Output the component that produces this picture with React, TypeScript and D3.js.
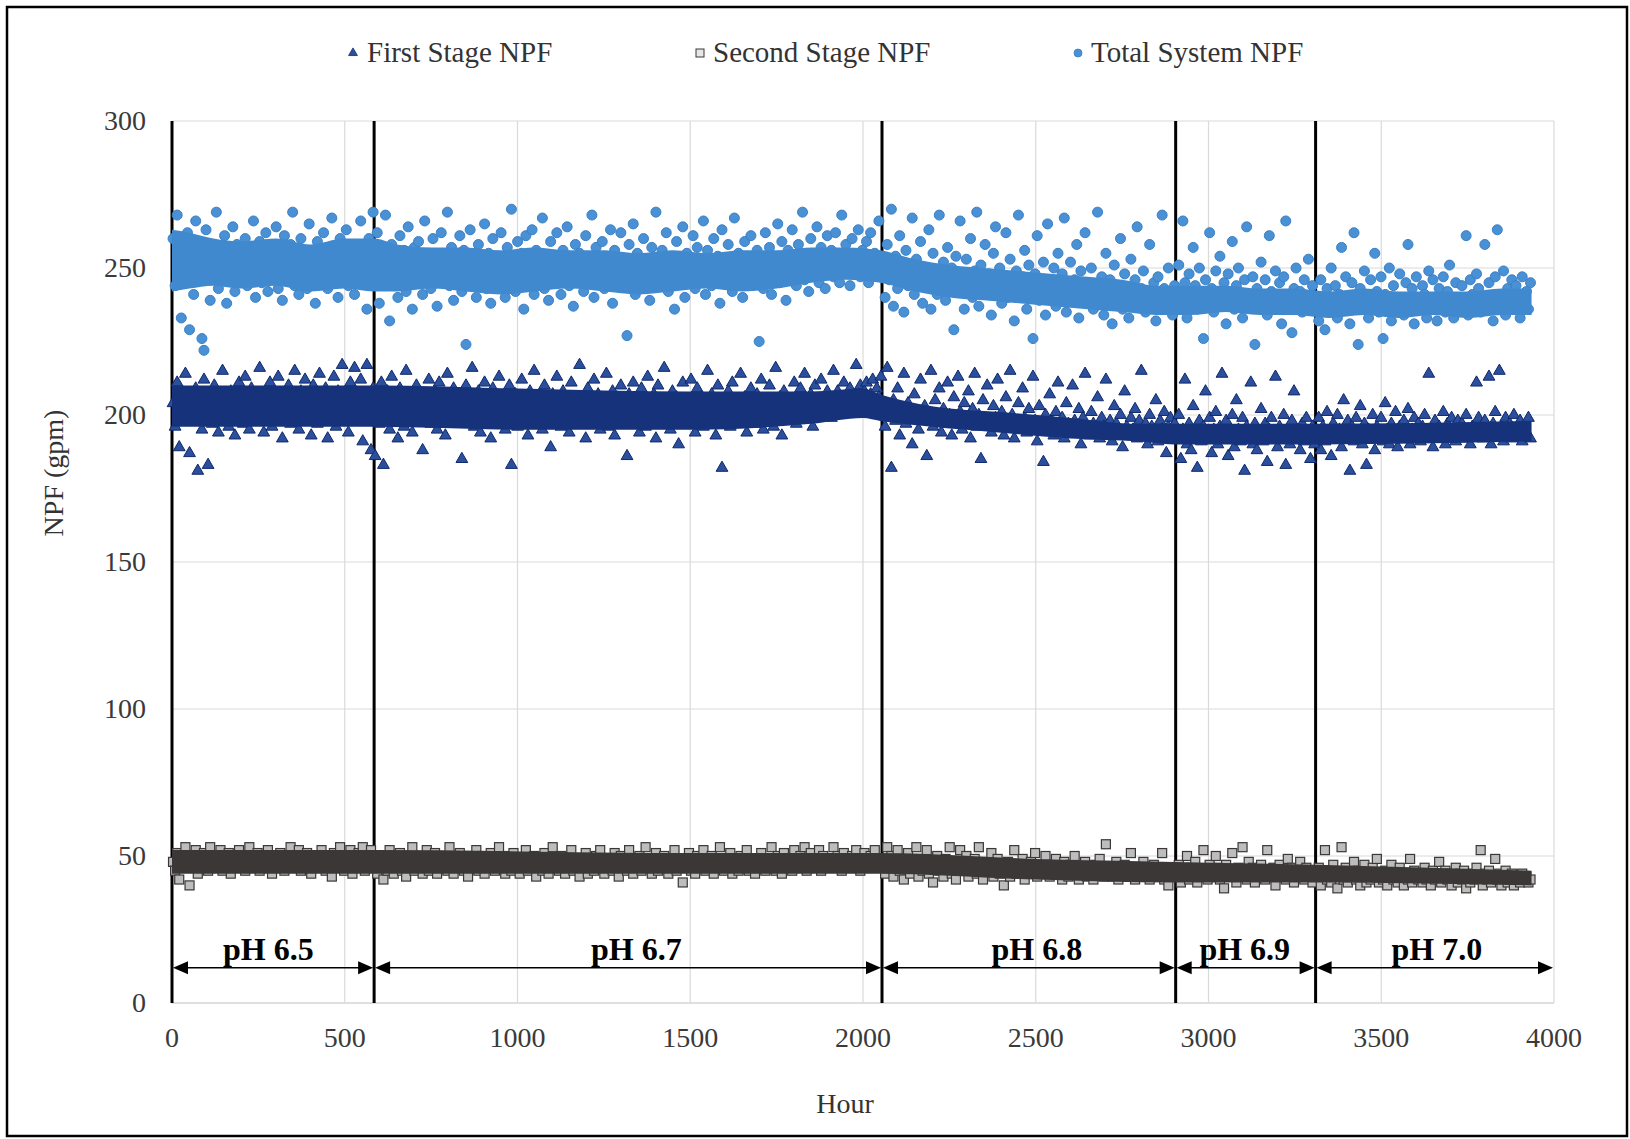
import * as d3 from "d3";

const W = 1630;
const H = 1139;

// pH phases (hours) and labels
const phaseLabels = ["pH 6.5", "pH 6.7", "pH 6.8", "pH 6.9", "pH 7.0"];
const phaseLabelHours = [279, 1344, 2503, 3105, 3661];
const phaseBreaks = [0, 585, 2055, 2905, 3310];
const arrowEnd = 4000;
const dataEnd = 3935;

const xTicks = [0, 500, 1000, 1500, 2000, 2500, 3000, 3500, 4000];
const yTicks = [0, 50, 100, 150, 200, 250, 300];

// dense core of each cloud: [hour, low, high]
const totalCore = [
  [0, 242, 263], [50, 243, 262], [120, 244, 260], [200, 243, 259], [300, 244, 260],
  [400, 242, 258], [500, 243, 260], [585, 242, 260], [650, 242, 258], [750, 243, 257],
  [850, 242, 257], [950, 241, 256], [1050, 242, 257], [1150, 243, 256], [1250, 242, 256],
  [1350, 241, 255], [1450, 242, 256], [1550, 243, 255], [1650, 242, 256], [1750, 243, 256],
  [1850, 245, 257], [1950, 246, 257], [2050, 245, 256], [2150, 242, 253], [2250, 240, 251],
  [2350, 239, 250], [2450, 238, 249], [2550, 237, 248], [2650, 236, 247], [2750, 235, 246],
  [2850, 234, 244], [2950, 234, 244], [3050, 235, 244], [3150, 234, 243], [3250, 234, 243],
  [3350, 233, 242], [3450, 234, 243], [3550, 233, 242], [3650, 234, 242], [3750, 233, 242],
  [3850, 234, 243], [3935, 234, 243],
];
const firstCore = [
  [0, 196, 210], [585, 196, 210], [1000, 195, 209], [1500, 195, 208], [1850, 197, 208],
  [2000, 199, 209], [2050, 198, 207], [2200, 196, 203], [2400, 194, 201], [2600, 192, 199],
  [2800, 191, 197], [2900, 190, 197], [3310, 190, 197], [3935, 191, 198],
];
const secondCore = [
  [0, 44, 52], [585, 44, 52], [1500, 44, 51], [2050, 44, 51], [2500, 42, 49],
  [2900, 41, 48], [3310, 41, 47], [3935, 40, 45],
];

// Total System NPF (gpm), readings per pH phase
const totalPh65 = [
  260, 244, 268, 251, 233, 256, 247, 262, 229, 253,
  241, 266, 249, 258, 226, 222, 263, 252, 239, 257,
  248, 269, 243, 255, 250, 261, 238, 254, 246, 264,
  242, 258, 251, 247, 247, 260, 244, 256, 252, 266,
  240, 249, 259, 245, 254, 262, 242, 257, 250, 247,
  264, 243, 255, 239, 261, 251, 246, 258, 269, 244,
  253, 241, 260, 249, 256, 243, 265, 252, 247, 238,
  259, 254, 245, 262, 250, 243, 257, 267, 248, 254,
  240, 260, 246, 252, 263, 244, 256, 249, 241, 258,
  251, 266, 245, 254, 236, 260, 248, 269,
];
const totalPh67 = [
  247, 262, 238, 255, 244, 268, 251, 232, 258, 246,
  253, 240, 261, 249, 256, 242, 264, 250, 236, 257,
  245, 259, 252, 241, 266, 248, 255, 243, 260, 250,
  237, 254, 262, 246, 251, 269, 244, 257, 239, 253,
  248, 261, 242, 256, 224, 250, 263, 245, 254, 240,
  258, 247, 252, 265, 243, 255, 238, 260, 249, 253,
  244, 262, 251, 240, 257, 246, 270, 253, 242, 259,
  248, 255, 236, 261, 250, 245, 263, 241, 256, 252,
  247, 267, 243, 254, 239, 259, 250, 245, 262, 253,
  241, 256, 248, 264, 244, 251, 237, 258, 246, 255,
  250, 242, 261, 253, 247, 268, 240, 257, 252, 245,
  259, 243, 254, 249, 263, 238, 256, 251, 246, 262,
  244, 253, 227, 258, 248, 265, 241, 255, 250, 243,
  260, 247, 252, 239, 257, 246, 269, 251, 244, 256,
  249, 262, 242, 254, 248, 236, 259, 252, 245, 264,
  240, 255, 250, 246, 261, 243, 257, 253, 247, 266,
  241, 256, 251, 244, 260, 248, 254, 238, 263, 250,
  245, 258, 252, 242, 267, 247, 255, 249, 240, 259,
  253, 244, 261, 250, 246, 256, 225, 252, 243, 262,
  248, 257, 241, 254, 250, 265, 245, 259, 251, 239,
  256, 247, 263, 252, 244, 258, 249, 269, 246, 255,
  242, 260, 253, 248, 264, 245, 257, 251, 243, 261,
  250, 256, 247, 262, 253, 245, 268, 252, 258, 249,
  244, 260, 254, 250, 263, 247, 256, 252, 259, 245,
  262, 251, 255, 248, 266, 253,
];
const totalPh68 = [
  252, 240, 258, 246, 270, 237, 254, 243, 261, 249,
  235, 256, 244, 251, 267, 241, 253, 247, 259, 238,
  250, 244, 263, 236, 255, 248, 241, 268, 246, 252,
  239, 257, 245, 250, 229, 254, 242, 266, 247, 236,
  253, 244, 260, 240, 249, 269, 237, 251, 245, 258,
  242, 248, 234, 255, 264, 243, 250, 238, 246, 262,
  240, 253, 245, 232, 249, 268, 241, 247, 256, 236,
  251, 243, 226, 248, 261, 239, 245, 252, 234, 265,
  246, 241, 250, 237, 255, 243, 248, 267, 235, 244,
  252, 239, 246, 258, 233, 249, 242, 262, 238, 245,
  250, 236, 243, 269, 240, 247, 234, 255, 241, 246,
  231, 251, 238, 244, 260, 236, 248, 242, 233, 253,
  240, 246, 264, 237, 243, 249, 235, 241, 258, 239,
  245, 232, 247, 238, 268, 243, 236, 250, 240, 234,
  244,
];
const totalPh69 = [
  242, 251, 236, 266, 245, 233, 248, 239, 257, 244,
  236, 250, 241, 226, 246, 238, 262, 243, 235, 249,
  240, 254, 237, 245, 231, 248, 242, 259, 236, 244,
  250, 239, 233, 246, 264, 241, 237, 247, 224, 243,
  238, 252, 240, 246, 234, 261, 242, 236, 249, 239,
  245, 231, 247, 266, 240, 237, 228, 243, 250, 238,
  242, 235, 246, 240, 253, 236, 244, 239,
];
const totalPh70 = [
  240, 232, 246, 237, 229, 243, 235, 250, 238, 244,
  233, 241, 257, 236, 247, 239, 231, 245, 262, 238,
  224, 243, 236, 249, 240, 233, 246, 238, 255, 242,
  235, 247, 226, 241, 237, 250, 232, 244, 239, 236,
  248, 240, 234, 245, 258, 238, 243, 231, 247, 239,
  236, 244, 241, 233, 249, 237, 246, 240, 232, 243,
  238, 247, 235, 242, 251, 239, 233, 245, 240, 236,
  244, 238, 261, 234, 246, 241, 237, 248, 243, 235,
  240, 258, 236, 245, 239, 232, 247, 263, 241, 237,
  249, 234, 243, 239, 246, 236, 244, 240, 233, 247,
  238, 242, 236, 245,
];

// First Stage NPF (gpm)
const firstPh65 = [
  204, 196, 211, 189, 207, 199, 214, 202, 187, 206,
  198, 209, 181, 203, 195, 212, 200, 183, 205, 197,
  210, 201, 194, 207, 215, 199, 204, 196, 208, 202,
  193, 206, 211, 200, 197, 213, 203, 195, 209, 201,
  205, 198, 216, 202, 194, 208, 200, 211, 196, 204,
  199, 213, 203, 192, 207, 201, 210, 197, 205, 215,
  200, 195, 208, 203, 212, 198, 206, 193, 210, 202,
  197, 214, 204, 199, 209, 192, 206, 201, 213, 196,
  208, 203, 217, 198, 205, 194, 211, 200, 216, 207,
  199, 212, 191, 205, 217, 201, 188, 209,
];
const firstPh67 = [
  186, 204, 197, 211, 183, 201, 208, 195, 213, 199,
  205, 192, 209, 202, 196, 215, 200, 207, 194, 203,
  210, 198, 204, 188, 206, 201, 212, 197, 203, 208,
  195, 211, 200, 206, 193, 214, 202, 198, 209, 204,
  197, 207, 185, 203, 210, 199, 205, 216, 196, 201,
  208, 194, 204, 211, 199, 202, 192, 209, 205, 198,
  213, 200, 206, 195, 203, 210, 183, 201, 207, 196,
  204, 212, 198, 205, 193, 208, 201, 215, 199, 206,
  202, 195, 210, 204, 197, 189, 207, 200, 213, 203,
  196, 208, 201, 205, 194, 211, 199, 206, 202, 217,
  198, 204, 192, 209, 203, 197, 212, 200, 207, 195,
  205, 201, 214, 196, 203, 208, 193, 206, 200, 210,
  197, 204, 186, 207, 201, 211, 198, 205, 194, 209,
  202, 196, 213, 203, 199, 207, 192, 210, 200, 205,
  216, 198, 204, 195, 208, 201, 206, 190, 203, 211,
  199, 205, 197, 212, 202, 194, 209, 200, 206, 196,
  204, 215, 198, 207, 201, 193, 210, 203, 182, 205,
  200, 208, 196, 211, 202, 198, 205, 214, 199, 206,
  194, 203, 209, 200, 197, 207, 201, 212, 195, 204,
  199, 210, 203, 196, 216, 201, 206, 193, 208, 202,
  198, 205, 200, 211, 197, 204, 209, 199, 214, 203,
  201, 207, 196, 210, 203, 199, 212, 205, 200, 208,
  204, 199, 215, 203, 208, 201, 206, 211, 202, 207,
  209, 203, 205, 217, 206, 210, 204, 208, 211, 205,
  207, 212, 203, 209, 206, 213,
];
const firstPh68 = [
  203, 196, 216, 200, 182, 205, 198, 209, 193, 201,
  214, 197, 204, 199, 190, 207, 201, 195, 212, 198,
  203, 186, 200, 215, 196, 205, 199, 209, 194, 202,
  197, 211, 200, 193, 206, 198, 213, 201, 195, 204,
  199, 208, 192, 202, 214, 196, 200, 185, 205, 197,
  210, 198, 194, 203, 199, 212, 196, 201, 193, 206,
  197, 215, 200, 192, 198, 204, 195, 209, 199, 194,
  202, 196, 213, 198, 191, 203, 197, 184, 200, 195,
  207, 198, 193, 201, 211, 196, 199, 192, 204, 197,
  194, 210, 198, 195, 202, 190, 199, 214, 196, 193,
  201, 197, 194, 206, 192, 199, 196, 212, 195, 198,
  191, 203, 197, 194, 200, 189, 208, 196, 193, 199,
  195, 202, 192, 198, 215, 194, 197, 190, 200, 196,
  193, 205, 191, 198, 195, 201, 187, 196, 199, 193,
  197,
];
const firstPh69 = [
  192, 200, 185, 195, 212, 190, 197, 188, 203, 194,
  182, 198, 191, 196, 208, 193, 199, 187, 195, 201,
  190, 196, 214, 192, 198, 186, 194, 200, 189, 205,
  195, 191, 199, 181, 196, 193, 211, 190, 197, 188,
  194, 202, 191, 197, 184, 195, 199, 192, 213, 189,
  196, 193, 200, 183, 195, 190, 198, 208, 192, 194,
  188, 197, 191, 199, 193, 185, 196, 190,
];
const firstPh70 = [
  193, 199, 188, 196, 191, 201, 194, 186, 197, 192,
  200, 195, 189, 205, 193, 198, 181, 196, 191, 199,
  194, 203, 190, 197, 183, 195, 192, 200, 188, 196,
  193, 199, 191, 204, 195, 190, 197, 193, 201, 189,
  196, 192, 198, 194, 202, 190, 195, 199, 193, 197,
  191, 196, 200, 193, 214, 195, 189, 198, 192, 196,
  194, 201, 190, 197, 193, 199, 195, 191, 198, 194,
  197, 192, 200, 195, 190, 196, 193, 211, 199, 194,
  192, 198, 195, 213, 190, 197, 201, 193, 215, 196,
  191, 199, 194, 197, 192, 200, 195, 193, 198, 191,
  196, 194, 199, 192,
];

// Second Stage NPF (gpm)
const secondPh65 = [
  48, 45, 51, 42, 49, 46, 53, 47, 40, 50,
  47, 52, 44, 49, 46, 51, 48, 45, 53, 47,
  50, 46, 48, 52, 45, 49, 47, 51, 44, 48,
  49, 46, 52, 47, 50, 45, 48, 53, 46, 49,
  47, 51, 45, 48, 50, 46, 52, 47, 44, 49,
  48, 46, 51, 47, 45, 50, 48, 53, 46, 49,
  47, 52, 45, 49, 46, 51, 48, 44, 50, 47,
  49, 46, 52, 48, 45, 50, 47, 43, 51, 48,
  46, 53, 48, 45, 50, 47, 52, 44, 49, 46,
  51, 48, 53, 45, 50, 47, 52, 49,
];
const secondPh67 = [
  47, 44, 50, 46, 42, 49, 45, 52, 47, 44,
  49, 46, 51, 45, 48, 43, 50, 47, 53, 45,
  48, 46, 50, 44, 47, 52, 45, 49, 46, 51,
  44, 48, 46, 50, 47, 45, 53, 48, 44, 49,
  46, 51, 47, 45, 49, 43, 50, 46, 48, 52,
  45, 47, 50, 44, 48, 46, 51, 47, 45, 49,
  53, 46, 48, 44, 50, 47, 45, 51, 46, 48,
  44, 49, 47, 52, 45, 48, 46, 50, 43, 47,
  49, 45, 51, 47, 44, 48, 53, 46, 49, 45,
  50, 47, 44, 48, 46, 52, 45, 49, 47, 43,
  48, 46, 51, 44, 49, 47, 45, 50, 46, 52,
  47, 44, 49, 46, 48, 45, 51, 47, 43, 50,
  46, 48, 45, 52, 47, 44, 49, 46, 50, 45,
  48, 53, 46, 49, 44, 47, 51, 45, 48, 46,
  50, 47, 44, 49, 46, 52, 45, 48, 47, 41,
  49, 46, 51, 45, 48, 44, 50, 47, 46, 52,
  45, 48, 47, 50, 44, 49, 46, 53, 47, 45,
  48, 46, 51, 44, 49, 47, 45, 50, 46, 48,
  52, 45, 47, 49, 44, 48, 46, 51, 47, 45,
  49, 46, 53, 47, 45, 50, 48, 44, 51, 47,
  46, 49, 45, 52, 48, 46, 50, 47, 53, 45,
  48, 51, 46, 49, 47, 52, 45, 50, 48, 46,
  49, 47, 53, 46, 50, 48, 45, 51, 47, 49,
  46, 50, 48, 52, 47, 45, 49, 51, 46, 48,
  50, 47, 52, 46, 49, 48,
];
const secondPh68 = [
  48, 44, 53, 46, 50, 43, 47, 52, 45, 49,
  42, 47, 51, 44, 48, 46, 53, 43, 49, 45,
  47, 52, 44, 48, 41, 46, 50, 45, 47, 43,
  49, 46, 53, 44, 48, 42, 47, 52, 45, 46,
  50, 43, 47, 45, 49, 44, 53, 46, 42, 48,
  45, 47, 51, 43, 46, 49, 44, 47, 40, 45,
  48, 43, 46, 52, 44, 47, 45, 49, 42, 46,
  44, 48, 45, 51, 43, 46, 47, 44, 50, 45,
  43, 47, 45, 49, 44, 46, 42, 48, 45, 43,
  47, 44, 50, 45, 42, 46, 44, 48, 43, 45,
  46, 42, 47, 44, 49, 45, 43, 54, 44, 46,
  43, 45, 48, 42, 46, 44, 47, 43, 45, 51,
  44, 42, 46, 45, 43, 48, 44, 46, 42, 45,
  47, 43, 45, 44, 51, 42, 46, 40, 44, 45,
  43,
];
const secondPh69 = [
  44, 47, 41, 45, 43, 50, 42, 46, 44, 48,
  41, 45, 43, 52, 44, 42, 47, 45, 43, 50,
  46, 42, 44, 39, 47, 45, 43, 51, 44, 41,
  46, 43, 53, 45, 42, 48, 44, 46, 41, 45,
  43, 47, 44, 42, 52, 45, 43, 46, 40, 44,
  47, 43, 45, 42, 49, 44, 46, 41, 45, 43,
  48, 44, 42, 46, 43, 45, 41, 44,
];
const secondPh70 = [
  43, 46, 40, 44, 52, 42, 45, 41, 47, 43,
  39, 44, 53, 42, 46, 41, 44, 43, 48, 42,
  45, 40, 43, 47, 41, 44, 42, 46, 43, 49,
  41, 44, 42, 45, 40, 43, 47, 42, 44, 41,
  46, 43, 40, 44, 42, 49, 41, 45, 43, 42,
  44, 41, 46, 42, 43, 40, 45, 42, 44, 48,
  41, 43, 45, 42, 44, 40, 43, 46, 41, 44,
  42, 45, 39, 43, 41, 44, 42, 46, 43, 52,
  40, 44, 42, 45, 41, 43, 49, 42, 44, 40,
  43, 45, 41, 42, 44, 40, 43, 42, 41, 44,
  42, 43, 41, 42,
];

const FONT = "'Liberation Serif', 'Times New Roman', serif";

const x = d3.scaleLinear().domain([0, 4000]).range([172, 1554]);
const y = d3.scaleLinear().domain([0, 300]).range([1003, 121]);

// place each phase's readings across that phase's hours
function toPoints(phases: number[][]) {
  return phases.flatMap((vals, i) => {
    const h0 = phaseBreaks[i];
    const h1 = i < phaseBreaks.length - 1 ? phaseBreaks[i + 1] : dataEnd;
    const hr = d3.scaleLinear().domain([0, vals.length - 1]).range([h0 + 3, h1 - 3]);
    return vals.map((v, j) => ({ h: hr(j), v }));
  });
}

const firstPts = toPoints([firstPh65, firstPh67, firstPh68, firstPh69, firstPh70]);
const secondPts = toPoints([secondPh65, secondPh67, secondPh68, secondPh69, secondPh70]);
const totalPts = toPoints([totalPh65, totalPh67, totalPh68, totalPh69, totalPh70]);

const core = d3
  .area<number[]>()
  .x((d) => x(d[0]))
  .y0((d) => y(d[1]))
  .y1((d) => y(d[2]))
  .curve(d3.curveMonotoneX);

const triPath = d3.symbol().type(d3.symbolTriangle).size(60)() as string;
const triLegend = d3.symbol().type(d3.symbolTriangle).size(34)() as string;

const colors = {
  firstFill: "#2b4f9c",
  firstStroke: "#10296b",
  firstCore: "#15327b",
  secondFill: "#bdbdbd",
  secondStroke: "#3b3737",
  secondCore: "#3b3737",
  totalFill: "#4a90d4",
  totalStroke: "#3a80c6",
  totalCore: "#4089cf",
};

function Arrow({ h0, h1, hl, label }: { h0: number; h1: number; hl: number; label: string }) {
  const x0 = x(h0);
  const x1 = x(h1);
  const yy = y(12);
  const L = 15;
  const hw = 6.5;
  return (
    <g>
      <line x1={x0 + 4} x2={x1 - 4} y1={yy} y2={yy} stroke="#000" strokeWidth={1.5} />
      <path d={`M${x0 + 1},${yy}L${x0 + 1 + L},${yy - hw}L${x0 + 1 + L},${yy + hw}Z`} fill="#000" />
      <path d={`M${x1 - 1},${yy}L${x1 - 1 - L},${yy - hw}L${x1 - 1 - L},${yy + hw}Z`} fill="#000" />
      <text x={x(hl)} y={960} textAnchor="middle" fontFamily={FONT} fontWeight="bold" fontSize={32} fill="#000">
        {label}
      </text>
    </g>
  );
}

export default function App() {
  const segEnds = [...phaseBreaks.slice(1), arrowEnd];
  return (
    <svg
      width={W}
      height={H}
      style={{ position: "absolute", left: 0, top: 0, display: "block", background: "#fff" }}
    >
      <rect x={7} y={7} width={1620} height={1129} fill="#fff" stroke="#000" strokeWidth={2.5} />

      {/* legend */}
      <g fontFamily={FONT} fontSize={29} fill="#333">
        <path d={triLegend} transform="translate(353,53)" fill={colors.firstFill} stroke={colors.firstStroke} strokeWidth={0.8} />
        <text x={367} y={62}>First Stage NPF</text>
        <rect x={696} y={49} width={8} height={8} fill="#e6e6e6" stroke={colors.secondStroke} strokeWidth={1} />
        <text x={713} y={62}>Second Stage NPF</text>
        <circle cx={1078} cy={53} r={4} fill={colors.totalFill} stroke={colors.totalStroke} strokeWidth={0.8} />
        <text x={1091} y={62}>Total System NPF</text>
      </g>

      {/* gridlines */}
      <g stroke="#dadada" strokeWidth={1.2}>
        {yTicks.map((t) => (
          <line key={"gy" + t} x1={x(0)} x2={x(4000)} y1={y(t)} y2={y(t)} stroke={t === 0 ? "#bfbfbf" : "#dadada"} />
        ))}
        {xTicks.map((t) => (
          <line key={"gx" + t} x1={x(t)} x2={x(t)} y1={y(0)} y2={y(300)} />
        ))}
      </g>

      {/* phase boundaries */}
      <g stroke="#000" strokeWidth={3}>
        {phaseBreaks.map((b) => (
          <line key={"pb" + b} x1={x(b)} x2={x(b)} y1={y(300)} y2={y(0)} />
        ))}
      </g>

      {/* series: scattered readings, then the dense core over them */}
      <g fill={colors.firstFill} stroke={colors.firstStroke} strokeWidth={1}>
        {firstPts.map((p, i) => (
          <path key={"f" + i} d={triPath} transform={`translate(${x(p.h)},${y(p.v)})`} />
        ))}
      </g>
      <path d={core(firstCore) as string} fill={colors.firstCore} />

      <g fill={colors.secondFill} stroke={colors.secondStroke} strokeWidth={1.2}>
        {secondPts.map((p, i) => (
          <rect key={"s" + i} x={x(p.h) - 4.5} y={y(p.v) - 4.5} width={9} height={9} />
        ))}
      </g>
      <path d={core(secondCore) as string} fill={colors.secondCore} />

      <g fill={colors.totalFill} stroke={colors.totalStroke} strokeWidth={1}>
        {totalPts.map((p, i) => (
          <circle key={"t" + i} cx={x(p.h)} cy={y(p.v)} r={5} />
        ))}
      </g>
      <path d={core(totalCore) as string} fill={colors.totalCore} />

      {/* pH arrows */}
      {phaseLabels.map((lab, i) => (
        <Arrow key={lab} h0={phaseBreaks[i]} h1={segEnds[i]} hl={phaseLabelHours[i]} label={lab} />
      ))}

      {/* axes labels */}
      <g fontFamily={FONT} fontSize={28} fill="#3a3a3a">
        {yTicks.map((t) => (
          <text key={"yl" + t} x={146} y={y(t) + 9} textAnchor="end">
            {t}
          </text>
        ))}
        {xTicks.map((t) => (
          <text key={"xl" + t} x={x(t)} y={1047} textAnchor="middle">
            {t}
          </text>
        ))}
      </g>
      <text x={845} y={1113} textAnchor="middle" fontFamily={FONT} fontSize={28} fill="#333">
        Hour
      </text>
      <text transform="translate(63,473) rotate(-90)" textAnchor="middle" fontFamily={FONT} fontSize={28} fill="#333">
        NPF (gpm)
      </text>
    </svg>
  );
}
